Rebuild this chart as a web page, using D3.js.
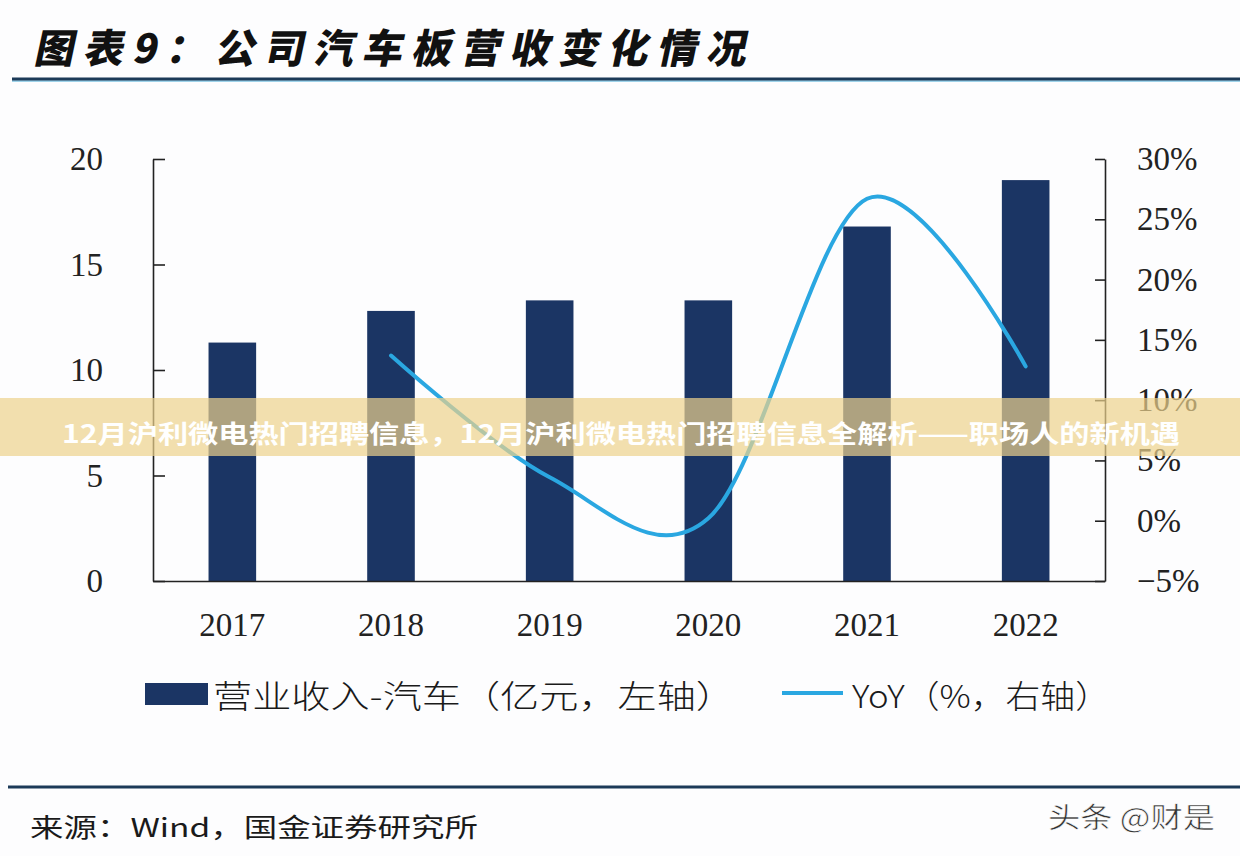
<!DOCTYPE html>
<html>
<head>
<meta charset="utf-8">
<script src="https://cdn.jsdelivr.net/npm/d3@7"></script>
<style>
  html, body { margin: 0; padding: 0; background: #fdfdfe; }
  svg { display: block; }
</style>
</head>
<body>
<svg id="chart" width="1240" height="856"></svg>
<script>
// ---- data ----
const years = ["2017", "2018", "2019", "2020", "2021", "2022"];
const revenue = [11.3, 12.8, 13.3, 13.3, 16.8, 19.0];          // 亿元, left axis
const yoyYears = ["2018", "2019", "2020", "2021", "2022"];
const yoy = [13.7, 3.6, 0.2, 26.7, 12.8];                       // %, right axis
const leftTicks = [0, 5, 10, 15, 20];
const leftTickLabels = ["0", "5", "10", "15", "20"];
const rightTicks = [-5, 0, 5, 10, 15, 20, 25, 30];
const rightTickLabels = ["\u22125%", "0%", "5%", "10%", "15%", "20%", "25%", "30%"];
const titleText = "图表9：公司汽车板营收变化情况";
const legendBar = "营业收入-汽车（亿元，左轴）";
const legendLine = "YoY（%，右轴）";
const sourceText = "来源：Wind，国金证券研究所";
const watermark = "头条 @财是";
const bannerText = "12月沪利微电热门招聘信息，12月沪利微电热门招聘信息全解析——职场人的新机遇";

const navy = "#1b3564";
const blue = "#2aa7e1";
const serif = "'Liberation Serif', 'DejaVu Serif', serif";
const cjk = "'Noto Sans CJK SC', 'Noto Sans', sans-serif";

const svg = d3.select("#chart");

// background
svg.append("rect").attr("width", 1240).attr("height", 856).attr("fill", "#fdfdfe");

// title
svg.append("text")
  .attr("x", 0).attr("y", 0)
  .attr("transform", "translate(37,46) skewX(-12)")
  .attr("dominant-baseline", "central")
  .attr("font-family", cjk).attr("font-weight", 900).attr("font-size", 40)
  .attr("fill", "#111")
  .attr("textLength", 712).attr("lengthAdjust", "spacing")
  .text(titleText);

// top rule
svg.append("line").attr("x1", 12).attr("x2", 1240).attr("y1", 81).attr("y2", 81)
  .attr("stroke", "#9fd3ea").attr("stroke-width", 2);
svg.append("line").attr("x1", 12).attr("x2", 1240).attr("y1", 79).attr("y2", 79)
  .attr("stroke", "#1c3a58").attr("stroke-width", 3);

// scales
const x = d3.scaleBand().domain(years).range([153, 1105]).paddingInner(0.7).paddingOuter(0.35);
const yL = d3.scaleLinear().domain([0, 20]).range([581, 159]);
const yR = d3.scaleLinear().domain([-5, 30]).range([581, 159]);

// bars
svg.append("g").selectAll("rect").data(years).join("rect")
  .attr("x", d => x(d))
  .attr("width", x.bandwidth())
  .attr("y", (d, i) => yL(revenue[i]))
  .attr("height", (d, i) => yL(0) - yL(revenue[i]))
  .attr("fill", navy);

// line
const lineGen = d3.line()
  .x(d => x(d[0]) + x.bandwidth() / 2)
  .y(d => yR(d[1]))
  .curve(d3.curveCardinal.tension(0));
svg.append("path")
  .datum(yoyYears.map((d, i) => [d, yoy[i]]))
  .attr("d", lineGen)
  .attr("fill", "none")
  .attr("stroke", blue)
  .attr("stroke-width", 4)
  .attr("stroke-linecap", "round");

// axes
function styleAxis(g) {
  g.selectAll("path.domain").attr("stroke", "#222").attr("stroke-width", 1.6);
  g.selectAll(".tick line").attr("stroke", "#222").attr("stroke-width", 1.6);
  g.selectAll(".tick text").attr("font-family", serif).attr("font-size", 33).attr("fill", "#222");
}

svg.append("g").attr("transform", "translate(153,0)")
  .call(d3.axisLeft(yL).tickValues(leftTicks)
    .tickFormat((d, i) => leftTickLabels[i])
    .tickSizeInner(-12).tickSizeOuter(0).tickPadding(50))
  .call(styleAxis)
  .call(g => g.selectAll(".tick text").attr("text-anchor", "end"));

svg.append("g").attr("transform", "translate(1105,0)")
  .call(d3.axisRight(yR).tickValues(rightTicks)
    .tickFormat((d, i) => rightTickLabels[i])
    .tickSizeInner(-10).tickSizeOuter(0).tickPadding(32))
  .call(styleAxis);

svg.append("g").attr("transform", "translate(0,581)")
  .call(d3.axisBottom(x).tickSize(0).tickSizeOuter(0).tickPadding(32))
  .call(styleAxis);

// legend
svg.append("rect").attr("x", 145).attr("y", 683).attr("width", 63).attr("height", 22).attr("fill", navy);
svg.append("text").attr("x", 213).attr("y", 694)
  .attr("dominant-baseline", "central")
  .attr("font-family", cjk).attr("font-weight", 300).attr("font-size", 32).attr("fill", "#1a1a1a")
  .attr("textLength", 522).attr("lengthAdjust", "spacingAndGlyphs")
  .text(legendBar);
svg.append("line").attr("x1", 782).attr("x2", 843).attr("y1", 693).attr("y2", 693)
  .attr("stroke", blue).attr("stroke-width", 4);
svg.append("text").attr("x", 852).attr("y", 694)
  .attr("dominant-baseline", "central")
  .attr("font-family", cjk).attr("font-weight", 300).attr("font-size", 32).attr("fill", "#1a1a1a")
  .attr("textLength", 258).attr("lengthAdjust", "spacingAndGlyphs")
  .text(legendLine);

// bottom rule
svg.append("line").attr("x1", 8).attr("x2", 1240).attr("y1", 787).attr("y2", 787)
  .attr("stroke", "#1c3a58").attr("stroke-width", 3);

// source
svg.append("text").attr("x", 30).attr("y", 825)
  .attr("dominant-baseline", "central")
  .attr("font-family", cjk).attr("font-weight", 400).attr("font-size", 26).attr("fill", "#1a1a1a")
  .attr("textLength", 448).attr("lengthAdjust", "spacingAndGlyphs")
  .text(sourceText);

// watermark
svg.append("text").attr("x", 1048).attr("y", 816)
  .attr("dominant-baseline", "central")
  .attr("font-family", cjk).attr("font-weight", 400).attr("font-size", 28).attr("fill", "#333")
  .attr("stroke", "#fff").attr("stroke-width", 0.6)
  .attr("textLength", 167).attr("lengthAdjust", "spacingAndGlyphs")
  .text(watermark);

// banner overlay
svg.append("rect").attr("x", 0).attr("y", 398).attr("width", 1240).attr("height", 58)
  .attr("fill", "rgb(236,210,140)").attr("fill-opacity", 0.7);
svg.append("text").attr("x", 62).attr("y", 432)
  .attr("dominant-baseline", "central")
  .attr("font-family", cjk).attr("font-weight", 700).attr("font-size", 25).attr("fill", "#fff")
  .attr("textLength", 1118).attr("lengthAdjust", "spacingAndGlyphs")
  .text(bannerText);
</script>
</body>
</html>
